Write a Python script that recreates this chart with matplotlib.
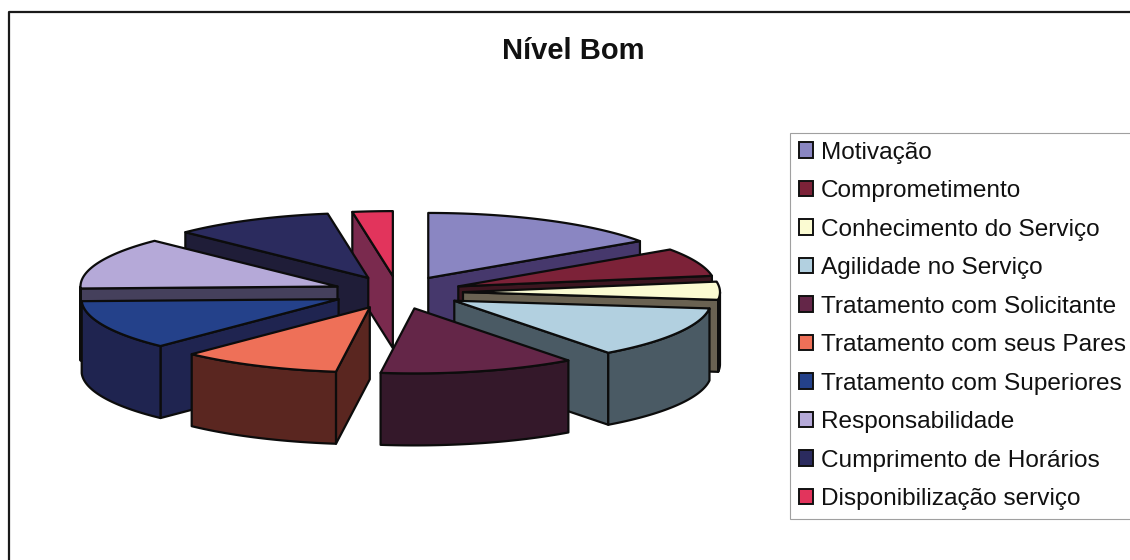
import numpy as np
import matplotlib
matplotlib.use("Agg")
import matplotlib.pyplot as plt
from matplotlib.patches import Polygon, Patch

labels = ['Motivação', 'Comprometimento', 'Conhecimento do Serviço', 'Agilidade no Serviço',
          'Tratamento com Solicitante', 'Tratamento com seus Pares', 'Tratamento com Superiores',
          'Responsabilidade', 'Cumprimento de Horários', 'Disponibilização serviço']
values = [55, 25, 16, 46, 44, 36, 44, 46, 36, 9]
top_colors = ['#8a86c2', '#7c2238', '#fbfbd2', '#b2d0e0', '#642648',
              '#ee7058', '#24418a', '#b5a9d8', '#2b2b5e', '#e2345c']
side_colors = ['#46386c', '#3c1620', '#6a6252', '#4a5a64', '#34182a',
               '#5a2620', '#1f2450', '#45405c', '#1f1d38', '#7a2a4e']

CX, CY = 398, 292.5
RX, RY = 257, 65
DEPTH = 72
EXPLODE = 65 / 257
EDGE = '#0c0c0c'


def ground(t, off):
    # point on the pie plane, t in radians, counter-clockwise from the right
    return off[0] + RX * np.cos(t), off[1] - RY * np.sin(t)


def draw_face(ax, xs, ys, color, z):
    ax.add_patch(Polygon(np.column_stack([xs, ys]), closed=True, facecolor=color,
                         edgecolor=EDGE, linewidth=1.6, joinstyle='round', zorder=z))


def draw_slice(ax, t0, t1, top, side, z):
    mid = (t0 + t1) / 2
    off = (CX + EXPLODE * RX * np.cos(mid), CY - EXPLODE * RY * np.sin(mid))

    # cut faces, only the ones turned towards the viewer
    for t, visible in ((t0, np.cos(t0) < 0), (t1, np.cos(t1) > 0)):
        if visible:
            x, y = ground(t, off)
            draw_face(ax, [off[0], x, x, off[0]], [off[1], y, y + DEPTH, off[1] + DEPTH], side, z)

    # rim, front half of the ellipse only
    arc = np.linspace(t0, t1, 80)
    front = arc[np.sin(arc) < 0]
    if len(front) > 1:
        x, y = ground(front, off)
        draw_face(ax, np.r_[x, x[::-1]], np.r_[y, y[::-1] + DEPTH], side, z)

    x, y = ground(arc, off)
    draw_face(ax, np.r_[off[0], x], np.r_[off[1], y], top, z + 0.5)


plt.rcParams['font.family'] = ['Liberation Sans', 'DejaVu Sans']
fig = plt.figure(figsize=(11.3, 5.6), dpi=100)
ax = fig.add_axes([0, 0, 1, 1])
ax.set_xlim(0, 1130)
ax.set_ylim(560, 0)
ax.axis('off')

# chart border, open at the bottom and on the right
ax.plot([9, 9, 1130], [560, 12, 12], color='#1a1a1a', linewidth=1.6, zorder=1)
ax.text(573.5, 59, 'Nível Bom', ha='center', va='baseline', fontsize=21, fontweight='bold', color='#111111')

# slices run clockwise from twelve o'clock
sweeps = np.radians(values) * 360 / sum(values)
ends = np.pi / 2 - np.cumsum(sweeps)
starts = ends + sweeps
mids = (starts + ends) / 2

# paint from the back of the pie to the front
for z, i in enumerate(np.argsort(-np.sin(mids))):
    draw_slice(ax, starts[i], ends[i], top_colors[i], side_colors[i], 2 + z)

handles = [Patch(facecolor=c, edgecolor='#111111', linewidth=1.4) for c in top_colors]
leg = ax.legend(handles, labels, loc='upper left', bbox_to_anchor=(790 / 1130, 1 - 133 / 560),
                fontsize=17.6, frameon=True, fancybox=False, framealpha=1, edgecolor='#a0a0a0',
                borderaxespad=0, borderpad=0.36, labelspacing=0.675, handlelength=0.6, handleheight=0.6,
                handletextpad=0.3, labelcolor='#111111')
leg.get_frame().set_linewidth(0.8)
leg.set_zorder(20)

fig.savefig('out.png', dpi=100)
